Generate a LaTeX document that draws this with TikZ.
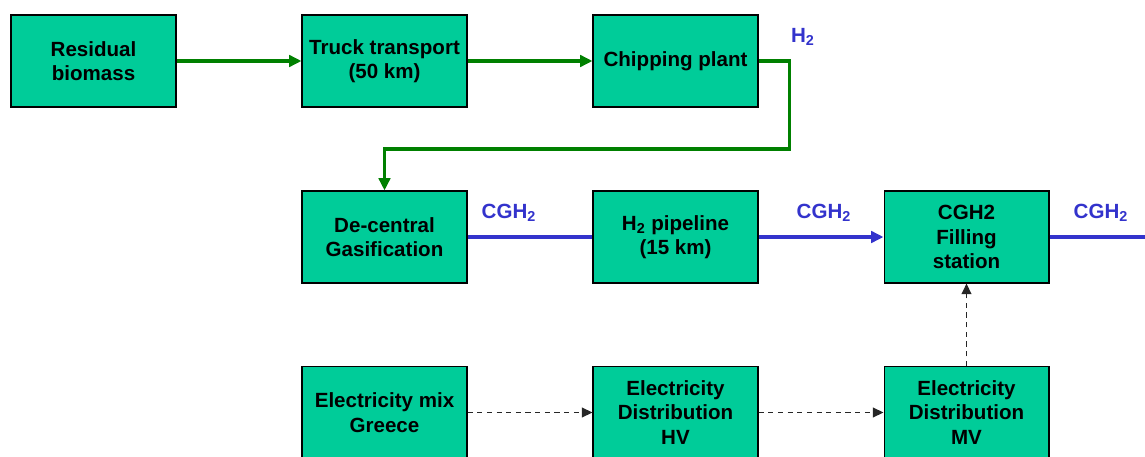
\documentclass[tikz,border=0pt]{standalone}
\usepackage{fontspec}
\setmainfont{Liberation Sans}
\usetikzlibrary{arrows.meta, positioning}
\definecolor{boxgreen}{RGB}{0, 204, 153}
\definecolor{flowgreen}{RGB}{0, 128, 0}
\definecolor{flowblue}{RGB}{51, 51, 204}

\begin{document}
\begin{tikzpicture}[x=0.02cm, y=-0.02cm,
    procbox/.style={draw=black, line width=0.6pt, fill=boxgreen, minimum width=3.3cm, minimum height=1.84cm,
        align=center, inner sep=2pt, font=\fontsize{11.7}{14}\selectfont\bfseries},
    greenflow/.style={line width=2pt, flowgreen, -{Triangle[length=7pt, width=6.5pt]}},
    blueflow/.style={line width=2.3pt, flowblue},
    elecflow/.style={line width=0.9pt, black!85, dash pattern=on 3pt off 2.5pt, -{Triangle[length=6pt, width=5.5pt]}},
    flowlabel/.style={text=flowblue, font=\fontsize{11.7}{14}\selectfont\bfseries}]
    \useasboundingbox (0, 0) rectangle (1145, 456);

    % Biomass chain
    \node[procbox] (biomass) at (93.5, 61) {Residual\\biomass};
    \node[procbox] (truck) at (384.5, 61) {Truck transport\\(50 km)};
    \node[procbox] (chipping) at (675.5, 61) {Chipping plant};

    % Hydrogen chain
    \node[procbox] (gasif) at (384.5, 237) {De-central\\Gasification};
    \node[procbox] (pipeline) at (675.5, 237) {H\textsubscript{2} pipeline\\(15 km)};
    \node[procbox] (filling) at (966.5, 237) {CGH2\\Filling\\station};

    % Electricity chain
    \node[procbox] (elecmix) at (384.5, 412.5) {Electricity mix\\Greece};
    \node[procbox] (elechv) at (675.5, 412.5) {Electricity\\Distribution\\HV};
    \node[procbox] (elecmv) at (966.5, 412.5) {Electricity\\Distribution\\MV};

    \coordinate (outlet) at (1145, 237);

    % Green flows
    \draw[greenflow] (biomass) -- (truck);
    \draw[greenflow] (truck) -- (chipping);
    \draw[greenflow] (chipping.east) -- ++(31, 0) |- (384.5, 149) -- (gasif.north);

    % Blue flows
    \draw[blueflow] (gasif) -- (pipeline);
    \draw[blueflow, -{Triangle[length=7pt, width=6.5pt]}] (pipeline) -- (filling);
    \draw[blueflow] (filling) -- (outlet);

    % Dashed electricity flows
    \draw[elecflow] (elecmix) -- (elechv);
    \draw[elecflow] (elechv) -- (elecmv);
    \draw[elecflow] (elecmv) -- (filling);

    % Labels
    \node[flowlabel] (lblh2) at (803, 37) {H\textsubscript{2}};
    \node[flowlabel] (lblgas) at (509, 213) {CGH\textsubscript{2}};
    \node[flowlabel] (lblpipe) at (824, 213) {CGH\textsubscript{2}};
    \node[flowlabel] (lblout) at (1101, 213) {CGH\textsubscript{2}};
\end{tikzpicture}
\end{document}
